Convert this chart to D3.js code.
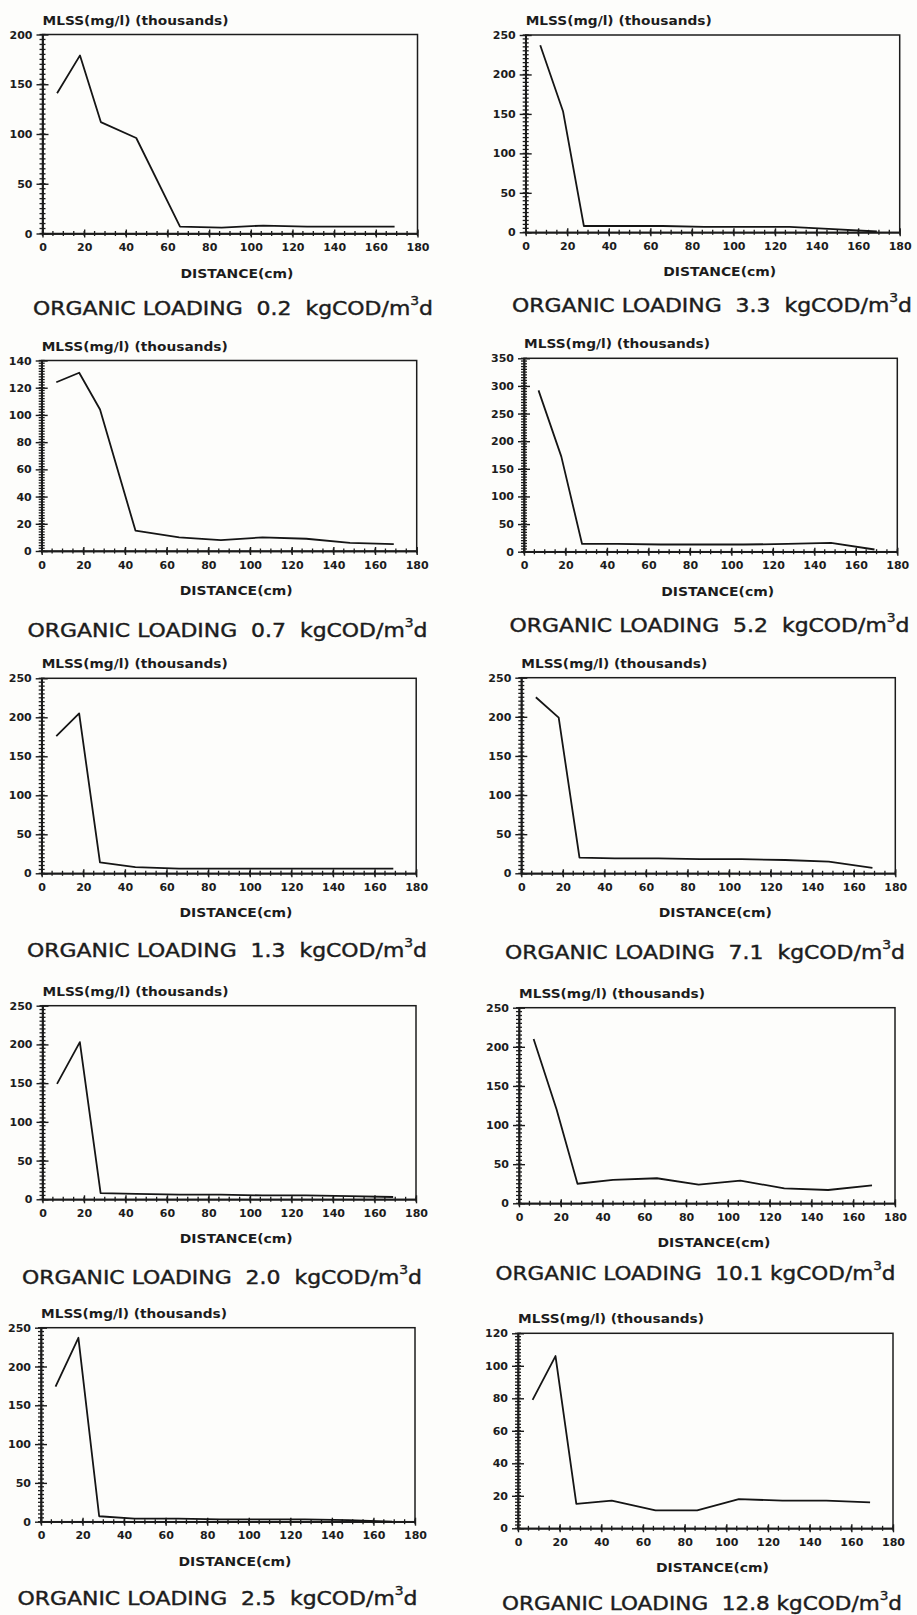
<!DOCTYPE html>
<html>
<head>
<meta charset="utf-8">
<script src="https://cdn.jsdelivr.net/npm/d3@7"></script>
<style>
  body { margin: 0; background: #fdfdfb; }
  svg text { font-family: "DejaVu Sans", sans-serif; fill: #1c1c1c; }
</style>
</head>
<body>
<div id="svgDiv"></div>
<script>
// sampling ports along the column (cm)
var distance = [7, 18, 28, 45, 66, 86, 106, 127, 148, 169];

// loadings in the order of the panels (left column then right column)
var loadings = ["0.2", "0.7", "1.3", "2.0", "2.5", "3.3", "5.2", "7.1", "10.1", "12.8"];
var yMaxes   = [200, 140, 250, 250, 250, 250, 350, 250, 250, 120];
var ySteps   = [50, 20, 50, 50, 50, 50, 50, 50, 50, 20];

// MLSS values (thousands mg/l); null where no vertex is visible
var mlss02  = [141, 179, 112, 96, 7, 6, 8, 7, 7, 7];
var mlss07  = [124, 131, 104, 15, 10, 8, 10, 9, 6, 5];
var mlss13  = [176, 205, 14, 8, 6, 6, 6, 6, 6, 6];
var mlss20  = [149, 203, 8, 7, 6, 6, 5, 5, 4, 3];
var mlss25  = [174, 237, 7, 4, 4, 3, 3, 3, 2, 0];
var mlss33  = [237, 153, 8, 8, 8, 7, 7, 7, 4, 1];
var mlss52  = [292, 172, 14, 14, 13, 13, 13, 14, 16, 4];
var mlss71  = [225, 199, 20, 19, 19, 18, 18, 17, 15, 7];
var mlss101 = [210, 120, 25, 30, 32, 24, 29, 19, 17, 23];
var mlss128 = [79, 106, 15, 17, 11, 11, 18, 17, 17, 16];

var allSeries = [mlss02, mlss07, mlss13, mlss20, mlss25, mlss33, mlss52, mlss71, mlss101, mlss128];

var xTicks = [0, 20, 40, 60, 80, 100, 120, 140, 160, 180];

// panel frames on the page: plot box and caption centre
var frames = [
  {l: 42.5, t: 34.5,  w: 375, h: 199, cx: 233, cy: 315},
  {l: 41.7, t: 360.5, w: 375, h: 190.5, cx: 227.5, cy: 637},
  {l: 41.7, t: 678.3, w: 374.5, h: 195, cx: 227, cy: 957},
  {l: 42.5, t: 1005.7, w: 373.5, h: 193.6, cx: 222, cy: 1284},
  {l: 41, t: 1327.7, w: 374, h: 194, cx: 217.5, cy: 1605},
  {l: 525.7, t: 35, w: 374, h: 197.3, cx: 712, cy: 312},
  {l: 524, t: 358.3, w: 373.3, h: 193.4, cx: 709.5, cy: 632},
  {l: 521.3, t: 677.7, w: 374, h: 195.6, cx: 705, cy: 959},
  {l: 519, t: 1007.7, w: 376, h: 195.6, cx: 695.5, cy: 1280},
  {l: 518, t: 1333.3, w: 375, h: 195, cx: 702, cy: 1610}
];

var svgWidth = 917, svgHeight = 1615;
var svg = d3.select("#svgDiv")
  .append("svg")
  .attr("width", svgWidth)
  .attr("height", svgHeight);

frames.forEach(function(f, i){
  drawPanel(f, allSeries[i], yMaxes[i], ySteps[i], loadings[i]);
});

function drawPanel(f, values, yMax, yStep, loading){
  var g = svg.append("g").attr("transform", "translate(" + f.l + "," + f.t + ")");

  var xScale = d3.scaleLinear().domain([0, 180]).range([0, f.w]);
  var yScale = d3.scaleLinear().domain([0, yMax]).range([f.h, 0]);

  var yMajor = d3.range(0, yMax + 1, yStep);
  var yMinor = d3.range(0, yMax + 0.001, yStep / 10);
  var xMinor = d3.range(0, 181, 5);

  // frame
  g.append("rect")
    .attr("width", f.w).attr("height", f.h)
    .attr("fill", "none").attr("stroke", "#1c1c1c").attr("stroke-width", 1.5);

  // minor ticks
  g.selectAll(".ymin").data(yMinor).enter().append("line")
    .attr("x1", -3).attr("x2", 3)
    .attr("y1", d => yScale(d)).attr("y2", d => yScale(d))
    .attr("stroke", "#1c1c1c").attr("stroke-width", 1.3);
  g.selectAll(".xmin").data(xMinor).enter().append("line")
    .attr("y1", f.h - 2.5).attr("y2", f.h + 2.5)
    .attr("x1", d => xScale(d)).attr("x2", d => xScale(d))
    .attr("stroke", "#1c1c1c").attr("stroke-width", 1.3);

  // major ticks with labels
  g.append("g")
    .call(d3.axisLeft(yScale).tickValues(yMajor).tickSizeInner(6).tickSizeOuter(0).tickPadding(4));
  g.append("g")
    .call(d3.axisRight(yScale).tickValues(yMajor).tickSizeInner(6).tickSizeOuter(0).tickFormat(""));
  g.append("g").attr("transform", "translate(0," + f.h + ")")
    .call(d3.axisBottom(xScale).tickValues(xTicks).tickSizeInner(4).tickSizeOuter(0).tickPadding(6));
  g.append("g").attr("transform", "translate(0," + f.h + ")")
    .call(d3.axisTop(xScale).tickValues(xTicks).tickSizeInner(4).tickSizeOuter(0).tickFormat(""));

  g.selectAll(".domain").attr("stroke", "#1c1c1c").attr("stroke-width", 1.5);
  g.selectAll(".tick line").attr("stroke", "#1c1c1c").attr("stroke-width", 1.4);
  g.selectAll(".tick text")
    .style("font-family", "DejaVu Sans")
    .style("font-size", "11px")
    .style("font-weight", "bold")
    .attr("fill", "#1c1c1c");

  // the MLSS profile
  var pts = distance.map((d, k) => ({x: d, y: values[k]})).filter(p => p.y !== null);
  var line = d3.line().x(p => xScale(p.x)).y(p => yScale(p.y));
  g.append("path")
    .datum(pts)
    .attr("d", line)
    .attr("fill", "none")
    .attr("stroke", "#151515")
    .attr("stroke-width", 1.8)
    .attr("stroke-linejoin", "round");

  // axis titles
  g.append("text")
    .attr("x", 0).attr("y", -10)
    .attr("textLength", 186).attr("lengthAdjust", "spacingAndGlyphs")
    .style("font-size", "11.5px").style("font-weight", "bold")
    .text("MLSS(mg/l) (thousands)");

  g.append("text")
    .attr("x", f.w / 2 + 7).attr("y", f.h + 44)
    .attr("text-anchor", "middle")
    .attr("textLength", 113).attr("lengthAdjust", "spacingAndGlyphs")
    .style("font-size", "11.5px").style("font-weight", "bold")
    .text("DISTANCE(cm)");

  // caption below panel
  var gap = loading.length > 3 ? " " : "  ";
  var cap = svg.append("text")
    .attr("x", f.cx - 200).attr("y", f.cy)
    .attr("textLength", 400).attr("lengthAdjust", "spacingAndGlyphs")
    .attr("stroke", "#1c1c1c").attr("stroke-width", 0.4)
    .style("white-space", "pre")
    .style("font-size", "19px");
  cap.append("tspan").text("ORGANIC LOADING  " + loading + gap + "kgCOD/m");
  cap.append("tspan").attr("dy", -10).style("font-size", "12px").text("3");
  cap.append("tspan").attr("dy", 10).text("d");
}
</script>
</body>
</html>
